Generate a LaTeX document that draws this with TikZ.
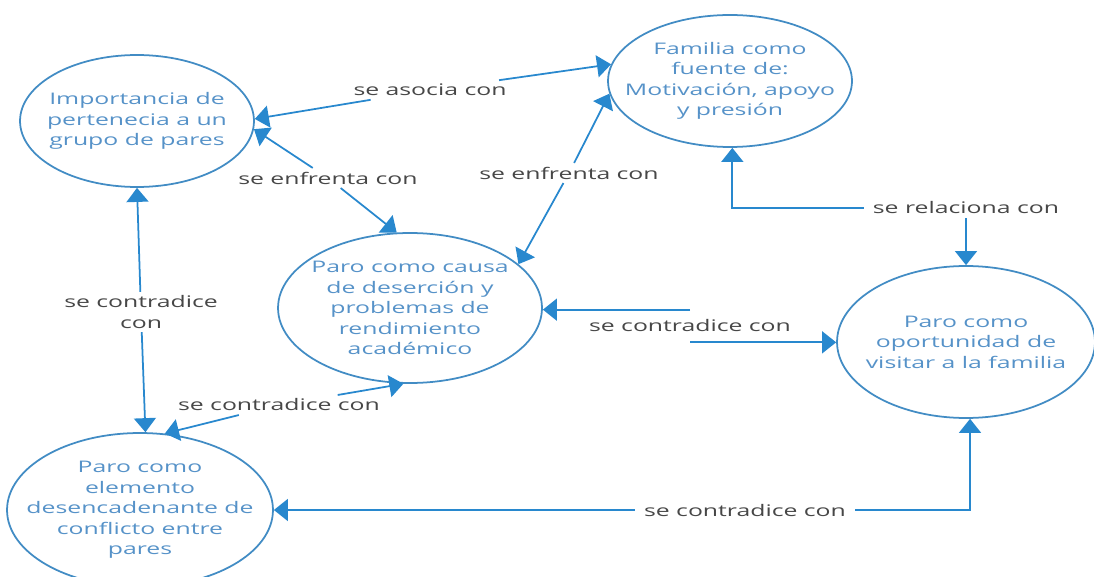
\documentclass[tikz,border=0pt]{standalone}
\usepackage{fontspec}
\setmainfont{Open Sans}[FakeStretch=1.55]
\usetikzlibrary{positioning}
\usetikzlibrary{shapes.geometric}
\usetikzlibrary{arrows.meta}
\definecolor{map blue}{RGB}{40,136,206}
\definecolor{ring blue}{RGB}{66,140,196}
\definecolor{soft blue}{RGB}{86,146,200}
\colorlet{link colour}{map blue}
\colorlet{concept colour}{ring blue}
\colorlet{concept text colour}{soft blue}
\colorlet{label colour}{black!72}
\tikzset{
    % Wide filled heads, like the ones in the scanned map
    >={Triangle[length=8pt, width=12.5pt]},
%
    % We almost always want centre aligned node text
    every node/.style={align=center},
}

\begin{document}
\begin{tikzpicture}[
    x=0.02cm, y=-0.02cm,
    concept/.style={draw=concept colour, ellipse, line width=1pt, inner sep=0pt},
    concept text/.style={text=concept text colour,
        font=\fontsize{9.1pt}{11.7pt}\selectfont},
    link/.style={color=link colour, line width=1pt},
    link label/.style={text=label colour, inner xsep=5pt, inner ysep=2pt,
        font=\fontsize{9.1pt}{11.4pt}\selectfont},
]
\useasboundingbox (0,0) rectangle (1094,577);

% the five concepts
\node [concept, minimum width=4.68cm, minimum height=2.64cm,
    label={[concept text]center:Importancia de\\pertenecia a un\\grupo de pares}]
    (importancia) at (137,121) {};
\node [concept, minimum width=4.88cm, minimum height=2.64cm,
    label={[concept text]center:Familia como\\fuente de:\\Motivación, apoyo\\y presión}]
    (familia) at (730,81) {};
\node [concept, minimum width=5.28cm, minimum height=3.0cm,
    label={[concept text]center:Paro como causa\\de deserción y\\problemas de\\rendimiento\\académico}]
    (causa) at (410,308) {};
\node [concept, minimum width=5.16cm, minimum height=3.04cm,
    label={[concept text]center:Paro como\\oportunidad de\\visitar a la familia}]
    (oportunidad) at (966,342) {};
\node [concept, minimum width=5.32cm, minimum height=3.08cm,
    label={[concept text]center:Paro como\\elemento\\desencadenante de\\conflicto entre\\pares}]
    (elemento) at (140,510) {};

% relations
\node [link label] (asocia) at (430,90) {se asocia con};
\draw [link, ->] (asocia) -- (familia.172);
\draw [link, ->] (asocia) -- (importancia.1);

\node [link label] (enfrenta left) at (328,178) {se enfrenta con};
\draw [link, ->] (enfrenta left) -- (importancia.-4);
\draw [link, ->] (enfrenta left) -- (causa.100);

\node [link label] (enfrenta mid) at (569,173) {se enfrenta con};
\draw [link, ->] (enfrenta mid) -- (familia.186);
\draw [link, ->] (enfrenta mid) -- (causa.22);

\node [link label] (relaciona) at (966,208) {se relaciona con};
\draw [link, ->] (relaciona) -| (familia.-88);
\draw [link, ->] (relaciona) -- (oportunidad);

\node [link label, minimum height=0.64cm] (contradice mid) at (690,326) {se contradice con};
\draw [link, ->] (contradice mid.north) -- (contradice mid.north -| causa.east);
\draw [link, ->] (contradice mid.south) -- (contradice mid.south -| oportunidad.west);

\node [link label] (contradice left) at (141,312) {se contradice\\con};
\draw [link, ->] (contradice left) -- (importancia.south);
\draw [link, ->] (contradice left) -- (elemento.86);

\node [link label] (contradice low) at (279,405) {se contradice con};
\draw [link, ->] (contradice low) -- (causa.-95);
\draw [link, ->] (contradice low) -- (elemento.72);

\node [link label] (contradice bottom) at (745,510) {se contradice con};
\draw [link, ->] (contradice bottom) -- (elemento);
\draw [link, ->] (contradice bottom) -| (oportunidad.-87);

\end{tikzpicture}
\end{document}
